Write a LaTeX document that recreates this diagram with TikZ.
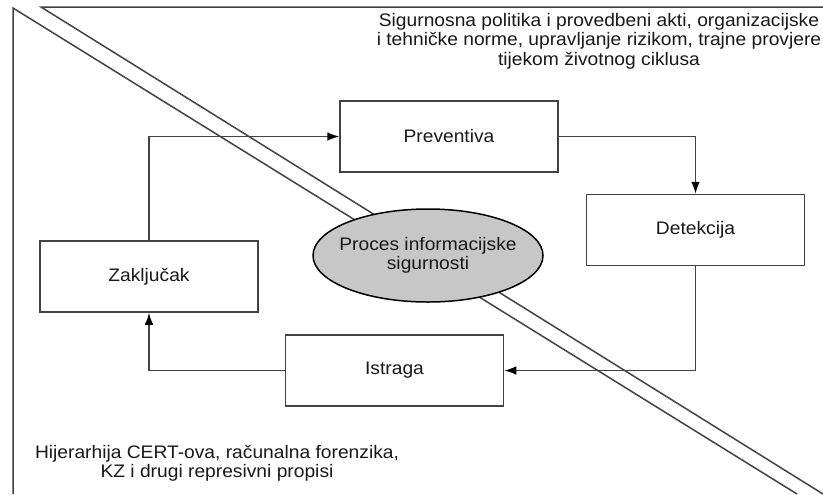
\documentclass[tikz,border=0pt]{standalone}
\usepackage{fontspec}
\setmainfont{Liberation Sans}[FakeStretch=1.06]
\usetikzlibrary{shapes.geometric,arrows.meta}

\newlength{\du}
\setlength{\du}{0.75pt}
\definecolor{dialinecolor}{rgb}{0.260000, 0.260000, 0.260000}
\definecolor{diafillcolor}{rgb}{0.780000, 0.780000, 0.780000}
\definecolor{diatextcolor}{rgb}{0.100000, 0.100000, 0.100000}
\newcommand{\diafont}{\fontsize{13.6pt}{14.5pt}\selectfont}
\tikzset{
  diabox/.style={rectangle, draw=dialinecolor, fill=white, line width=1.5\du,
    minimum width=218\du, minimum height=71\du, inner sep=0pt,
    text=diatextcolor, font=\diafont},
  diaellipse/.style={ellipse, draw=black, fill=diafillcolor, line width=1.5\du,
    minimum width=230\du, minimum height=93\du, inner xsep=-8\du, inner ysep=0pt,
    align=center, text=diatextcolor, font=\diafont},
  dialabel/.style={align=center, inner sep=0pt, text=diatextcolor, font=\diafont},
  diaborder/.style={draw=dialinecolor, line width=1.5\du},
  diaflow/.style={draw=dialinecolor, line width=1.5\du,
    -{Latex[length=9pt,width=6.5pt,color=black]}}
}

\begin{document}
\begin{tikzpicture}
\pgftransformxscale{1.000000}
\pgftransformyscale{-1.000000}
\useasboundingbox (0\du,0\du) rectangle (823\du,494\du);
% split of the two areas
\draw[diaborder] (823\du,7\du)--(41\du,7\du)--(823\du,494\du);
\draw[diaborder] (13\du,494\du)--(13\du,8\du)--(797\du,494\du);
\node[dialabel] (politika) at (599\du,41\du){Sigurnosna politika i provedbeni akti, organizacijske\\
i tehničke norme, upravljanje rizikom, trajne provjere\\
tijekom životnog ciklusa};
\node[dialabel] (propisi) at (217\du,463\du){Hijerarhija CERT-ova, računalna forenzika,\\
KZ i drugi represivni propisi};
% the cycle
\node[diabox] (preventiva) at (449\du,136.5\du){Preventiva};
\node[diabox] (detekcija) at (695.5\du,230\du){Detekcija};
\node[diabox] (istraga) at (394.5\du,370.5\du){Istraga};
\node[diabox] (zakljucak) at (149\du,276.5\du){Zaključak};
\node[diaellipse] (proces) at (428\du,255.5\du){Proces informacijske\\sigurnosti};
\draw[diaflow] (zakljucak.north) |- (preventiva.west);
\draw[diaflow] (preventiva.east) -| (detekcija.north);
\draw[diaflow] (detekcija.south) |- (istraga.east);
\draw[diaflow] (istraga.west) -| (zakljucak.south);
\end{tikzpicture}
\end{document}
